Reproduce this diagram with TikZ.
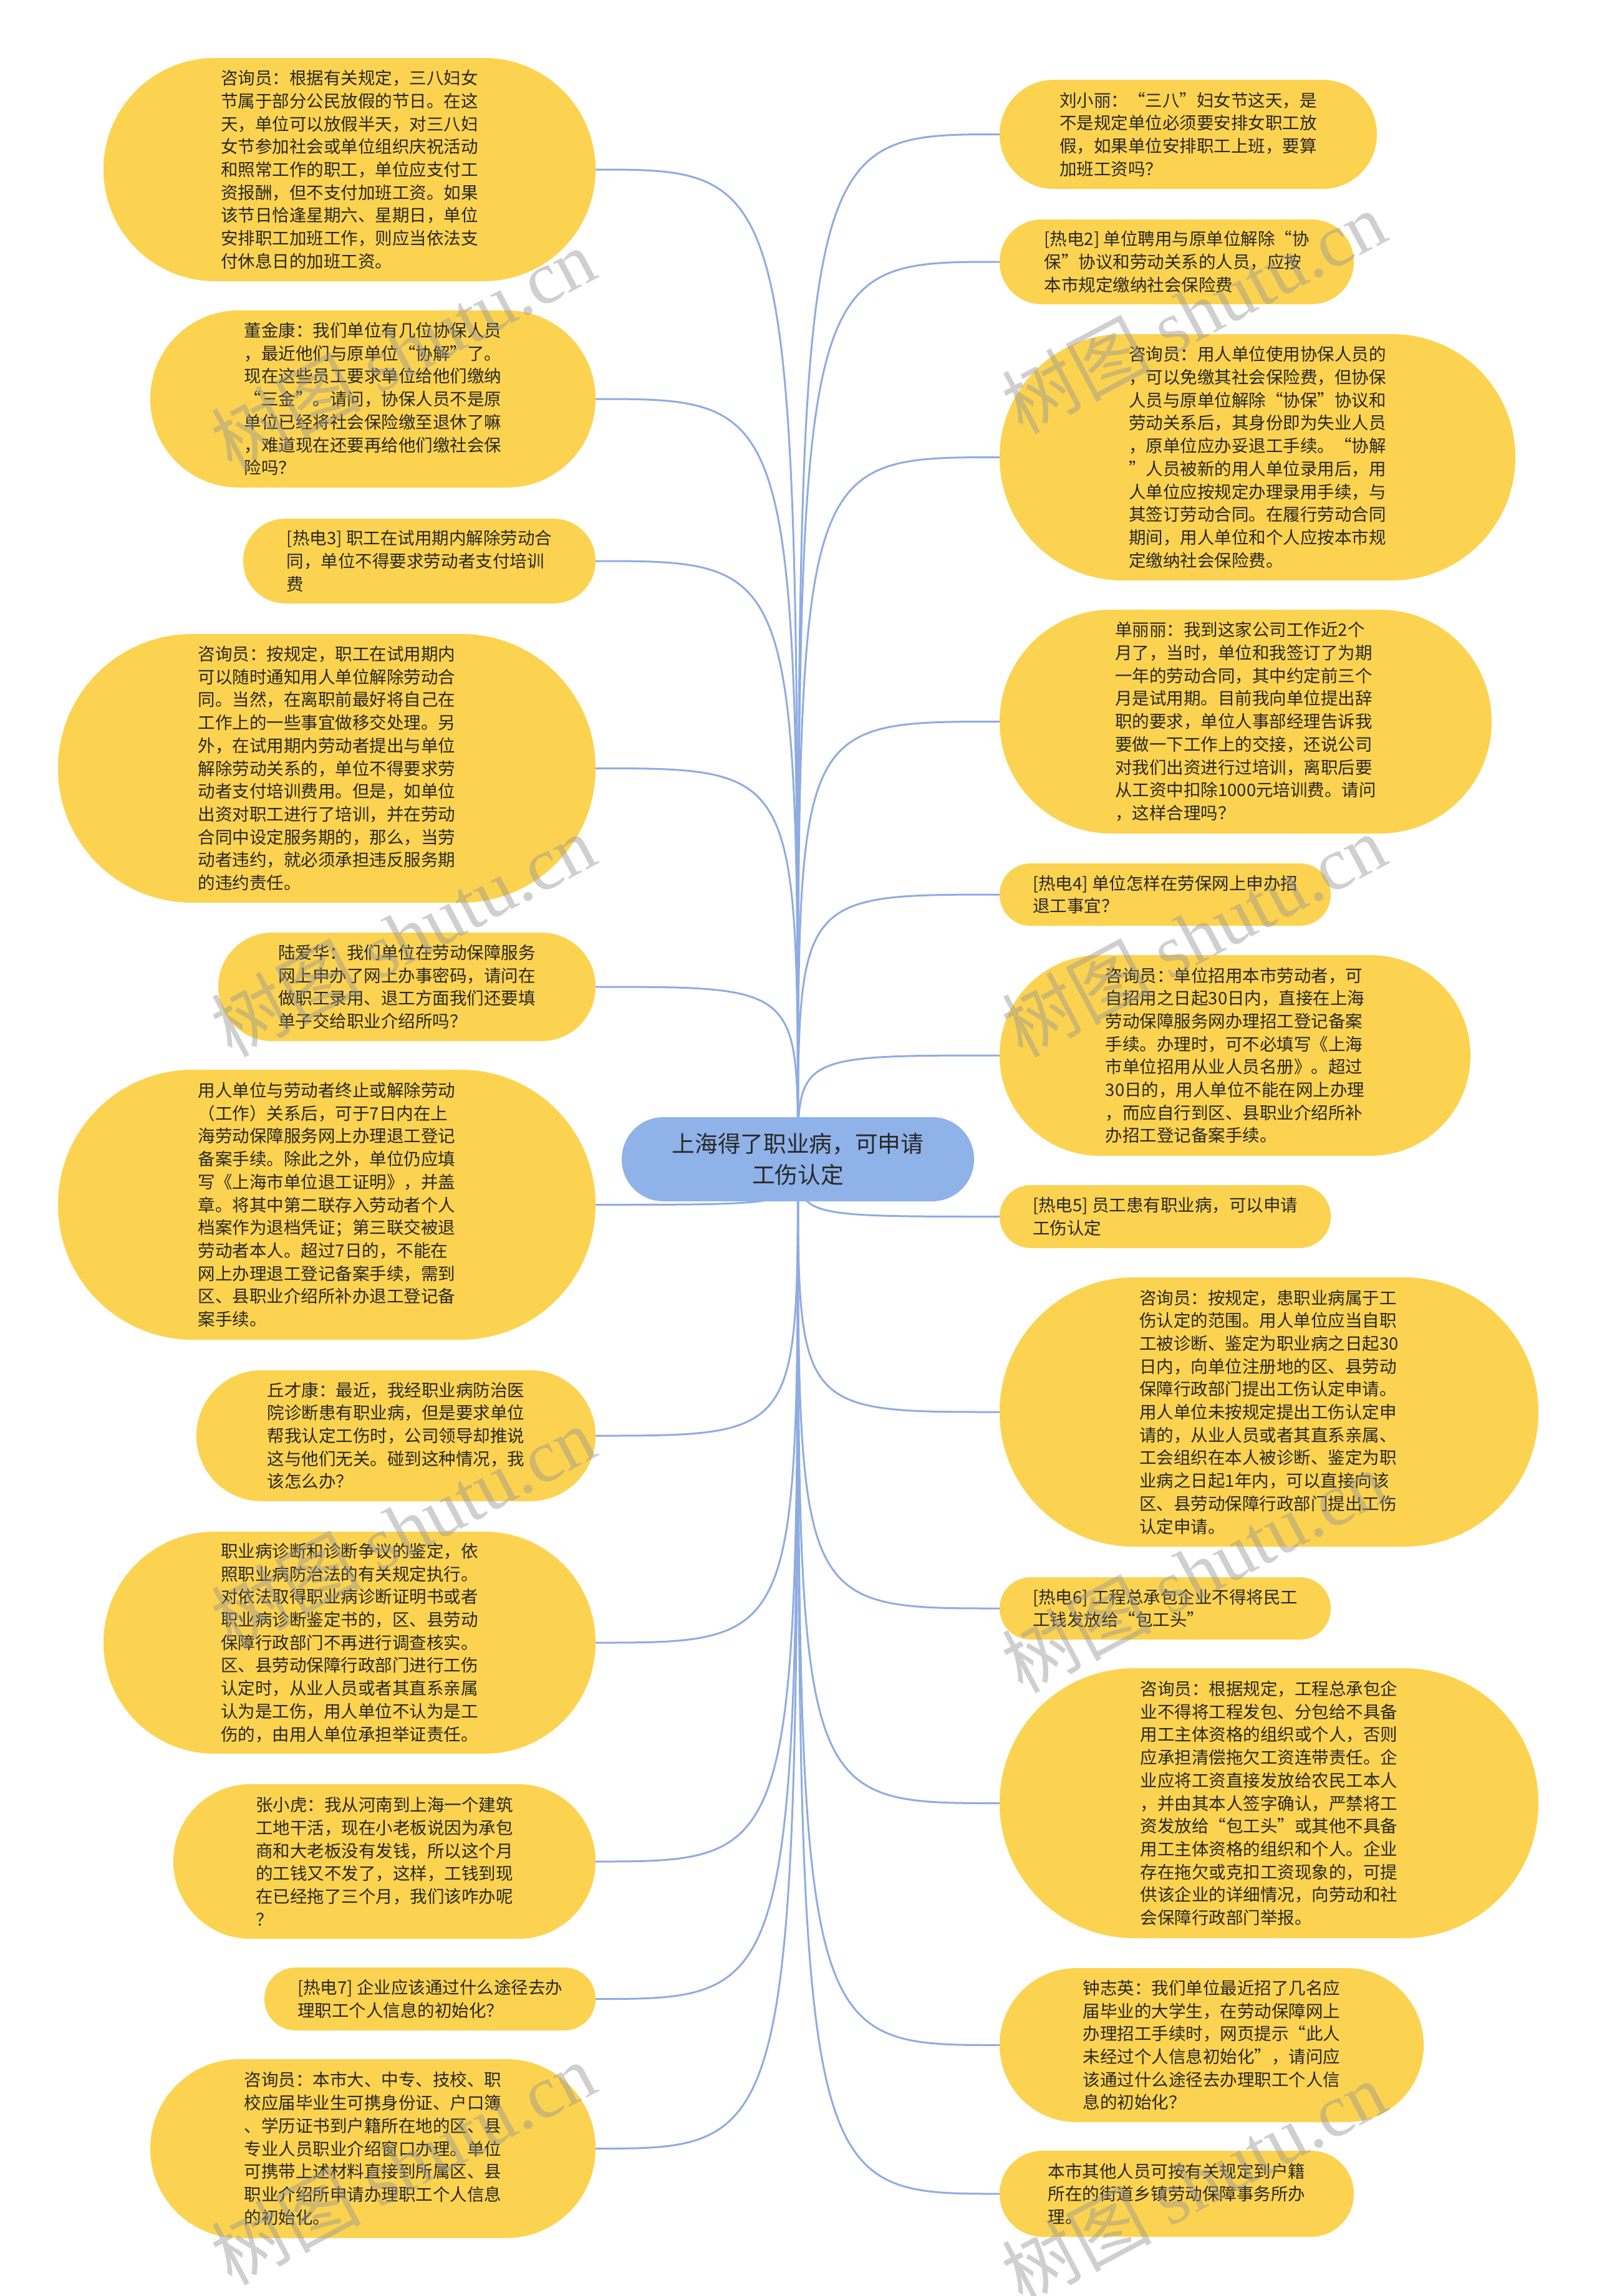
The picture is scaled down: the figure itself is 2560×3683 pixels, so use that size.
\documentclass[tikz,border=0pt]{standalone}
\usepackage{fontspec}
\setmainfont{Noto Sans CJK SC}
\newfontfamily\wmlatin{Liberation Serif}
\pgfdeclarelayer{bg}
\pgfsetlayers{bg,main}
\definecolor{leafc}{RGB}{252,211,80}
\definecolor{rootc}{RGB}{143,178,232}
\definecolor{linec}{RGB}{143,172,225}
\definecolor{txtc}{RGB}{40,40,40}
\definecolor{wmc}{RGB}{150,150,150}
\begin{document}
\begin{tikzpicture}[x=1pt,y=-1pt,
  leaf/.style 2 args={fill=leafc, text=txtc, minimum width=#1, minimum height=#2,
    rounded corners={#2/2-0.5}, inner sep=0pt, align=left,
    font=\fontsize{27.5}{36.7}\selectfont},
  rootbox/.style={fill=rootc, text=txtc, minimum width=565, minimum height=135,
    rounded corners=67, inner sep=0pt, align=center,
    font=\fontsize{36.7}{50}\selectfont},
  conn/.style={draw=linec, line width=3pt},
  wm/.style={text=wmc, text opacity=0.45, rotate=28, inner sep=0pt,
    font=\fontsize{120}{130}\selectfont}]
\useasboundingbox (0,0) rectangle (2560,3683);

\node[rootbox] (root) at (1279.5,1859.5) {上海得了职业病，可申请\\工伤认定};

% left column
\node[leaf={789}{358}] (L1) at (560.5,272) {咨询员：根据有关规定，三八妇女\\节属于部分公民放假的节日。在这\\天，单位可以放假半天，对三八妇\\女节参加社会或单位组织庆祝活动\\和照常工作的职工，单位应支付工\\资报酬，但不支付加班工资。如果\\该节日恰逢星期六、星期日，单位\\安排职工加班工作，则应当依法支\\付休息日的加班工资。};
\node[leaf={714}{284}] (L2) at (598,640) {董金康：我们单位有几位协保人员\\，最近他们与原单位“协解”了。\\现在这些员工要求单位给他们缴纳\\“三金”。请问，协保人员不是原\\单位已经将社会保险缴至退休了嘛\\，难道现在还要再给他们缴社会保\\险吗？};
\node[leaf={565}{136}] (L3) at (672.5,900) {[热电3] 职工在试用期内解除劳动合\\同，单位不得要求劳动者支付培训\\费};
\node[leaf={862}{431}] (L4) at (524,1232.5) {咨询员：按规定，职工在试用期内\\可以随时通知用人单位解除劳动合\\同。当然，在离职前最好将自己在\\工作上的一些事宜做移交处理。另\\外，在试用期内劳动者提出与单位\\解除劳动关系的，单位不得要求劳\\动者支付培训费用。但是，如单位\\出资对职工进行了培训，并在劳动\\合同中设定服务期的，那么，当劳\\动者违约，就必须承担违反服务期\\的违约责任。};
\node[leaf={605}{174}] (L5) at (652.5,1583) {陆爱华：我们单位在劳动保障服务\\网上申办了网上办事密码，请问在\\做职工录用、退工方面我们还要填\\单子交给职业介绍所吗？};
\node[leaf={862}{433}] (L6) at (524,1932.5) {用人单位与劳动者终止或解除劳动\\（工作）关系后，可于7日内在上\\海劳动保障服务网上办理退工登记\\备案手续。除此之外，单位仍应填\\写《上海市单位退工证明》，并盖\\章。将其中第二联存入劳动者个人\\档案作为退档凭证；第三联交被退\\劳动者本人。超过7日的，不能在\\网上办理退工登记备案手续，需到\\区、县职业介绍所补办退工登记备\\案手续。};
\node[leaf={640}{210}] (L7) at (635,2303) {丘才康：最近，我经职业病防治医\\院诊断患有职业病，但是要求单位\\帮我认定工伤时，公司领导却推说\\这与他们无关。碰到这种情况，我\\该怎么办？};
\node[leaf={789}{356}] (L8) at (560.5,2635) {职业病诊断和诊断争议的鉴定，依\\照职业病防治法的有关规定执行。\\对依法取得职业病诊断证明书或者\\职业病诊断鉴定书的，区、县劳动\\保障行政部门不再进行调查核实。\\区、县劳动保障行政部门进行工伤\\认定时，从业人员或者其直系亲属\\认为是工伤，用人单位不认为是工\\伤的，由用人单位承担举证责任。};
\node[leaf={677}{248}] (L9) at (616.5,2986) {张小虎：我从河南到上海一个建筑\\工地干活，现在小老板说因为承包\\商和大老板没有发钱，所以这个月\\的工钱又不发了，这样，工钱到现\\在已经拖了三个月，我们该咋办呢\\？};
\node[leaf={531}{101}] (L10) at (689.5,3206.5) {[热电7] 企业应该通过什么途径去办\\理职工个人信息的初始化？};
\node[leaf={714}{287}] (L11) at (598,3446.5) {咨询员：本市大、中专、技校、职\\校应届毕业生可携身份证、户口簿\\、学历证书到户籍所在地的区、县\\专业人员职业介绍窗口办理。单位\\可携带上述材料直接到所属区、县\\职业介绍所申请办理职工个人信息\\的初始化。};

% right column
\node[leaf={605}{175}] (R1) at (1905.5,215.5) {刘小丽：“三八”妇女节这天，是\\不是规定单位必须要安排女职工放\\假，如果单位安排职工上班，要算\\加班工资吗？};
\node[leaf={568}{136}] (R2) at (1887,420) {[热电2] 单位聘用与原单位解除“协\\保”协议和劳动关系的人员，应按\\本市规定缴纳社会保险费};
\node[leaf={827}{395}] (R3) at (2016.5,733.5) {咨询员：用人单位使用协保人员的\\，可以免缴其社会保险费，但协保\\人员与原单位解除“协保”协议和\\劳动关系后，其身份即为失业人员\\，原单位应办妥退工手续。“协解\\”人员被新的用人单位录用后，用\\人单位应按规定办理录用手续，与\\其签订劳动合同。在履行劳动合同\\期间，用人单位和个人应按本市规\\定缴纳社会保险费。};
\node[leaf={789}{359}] (R4) at (1997.5,1157.5) {单丽丽：我到这家公司工作近2个\\月了，当时，单位和我签订了为期\\一年的劳动合同，其中约定前三个\\月是试用期。目前我向单位提出辞\\职的要求，单位人事部经理告诉我\\要做一下工作上的交接，还说公司\\对我们出资进行过培训，离职后要\\从工资中扣除1000元培训费。请问\\，这样合理吗？};
\node[leaf={531}{100}] (R5) at (1868.5,1435) {[热电4] 单位怎样在劳保网上申办招\\退工事宜？};
\node[leaf={755}{322}] (R6) at (1980.5,1693) {咨询员：单位招用本市劳动者，可\\自招用之日起30日内，直接在上海\\劳动保障服务网办理招工登记备案\\手续。办理时，可不必填写《上海\\市单位招用从业人员名册》。超过\\30日的，用人单位不能在网上办理\\，而应自行到区、县职业介绍所补\\办招工登记备案手续。};
\node[leaf={531}{101}] (R7) at (1868.5,1951.5) {[热电5] 员工患有职业病，可以申请\\工伤认定};
\node[leaf={864}{432}] (R8) at (2035,2265) {咨询员：按规定，患职业病属于工\\伤认定的范围。用人单位应当自职\\工被诊断、鉴定为职业病之日起30\\日内，向单位注册地的区、县劳动\\保障行政部门提出工伤认定申请。\\用人单位未按规定提出工伤认定申\\请的，从业人员或者其直系亲属、\\工会组织在本人被诊断、鉴定为职\\业病之日起1年内，可以直接向该\\区、县劳动保障行政部门提出工伤\\认定申请。};
\node[leaf={531}{100}] (R9) at (1868.5,2580) {[热电6] 工程总承包企业不得将民工\\工钱发放给“包工头”};
\node[leaf={864}{433}] (R10) at (2035,2892.5) {咨询员：根据规定，工程总承包企\\业不得将工程发包、分包给不具备\\用工主体资格的组织或个人，否则\\应承担清偿拖欠工资连带责任。企\\业应将工资直接发放给农民工本人\\，并由其本人签字确认，严禁将工\\资发放给“包工头”或其他不具备\\用工主体资格的组织和个人。企业\\存在拖欠或克扣工资现象的，可提\\供该企业的详细情况，向劳动和社\\会保障行政部门举报。};
\node[leaf={680}{247}] (R11) at (1943,3280.5) {钟志英：我们单位最近招了几名应\\届毕业的大学生，在劳动保障网上\\办理招工手续时，网页提示“此人\\未经过个人信息初始化”，请问应\\该通过什么途径去办理职工个人信\\息的初始化？};
\node[leaf={568}{138}] (R12) at (1887,3519) {本市其他人员可按有关规定到户籍\\所在的街道乡镇劳动保障事务所办\\理。};

\begin{pgfonlayer}{bg}
\fill[white] (0,0) rectangle (2560,3683);
\foreach \n in {L1,L2,L3,L4,L5,L6,L7,L8,L9,L10,L11}
  \draw[conn] (root.center) .. controls (root.center |- \n.east) and (root.center |- \n.east) .. (\n.east);
\foreach \n in {R1,R2,R3,R4,R5,R6,R7,R8,R9,R10,R11,R12}
  \draw[conn] (root.center) .. controls (root.center |- \n.west) and (root.center |- \n.west) .. (\n.west);
\end{pgfonlayer}

% watermarks
\node[wm] (w1) at (646,560) {树图 {\wmlatin shutu.cn}};
\node[wm] (w2) at (1914,500) {树图 {\wmlatin shutu.cn}};
\node[wm] (w3) at (646,1500) {树图 {\wmlatin shutu.cn}};
\node[wm] (w4) at (1914,1500) {树图 {\wmlatin shutu.cn}};
\node[wm] (w5) at (646,2450) {树图 {\wmlatin shutu.cn}};
\node[wm] (w6) at (1914,2520) {树图 {\wmlatin shutu.cn}};
\node[wm] (w7) at (646,3470) {树图 {\wmlatin shutu.cn}};
\node[wm] (w8) at (1914,3500) {树图 {\wmlatin shutu.cn}};
\end{tikzpicture}
\end{document}
